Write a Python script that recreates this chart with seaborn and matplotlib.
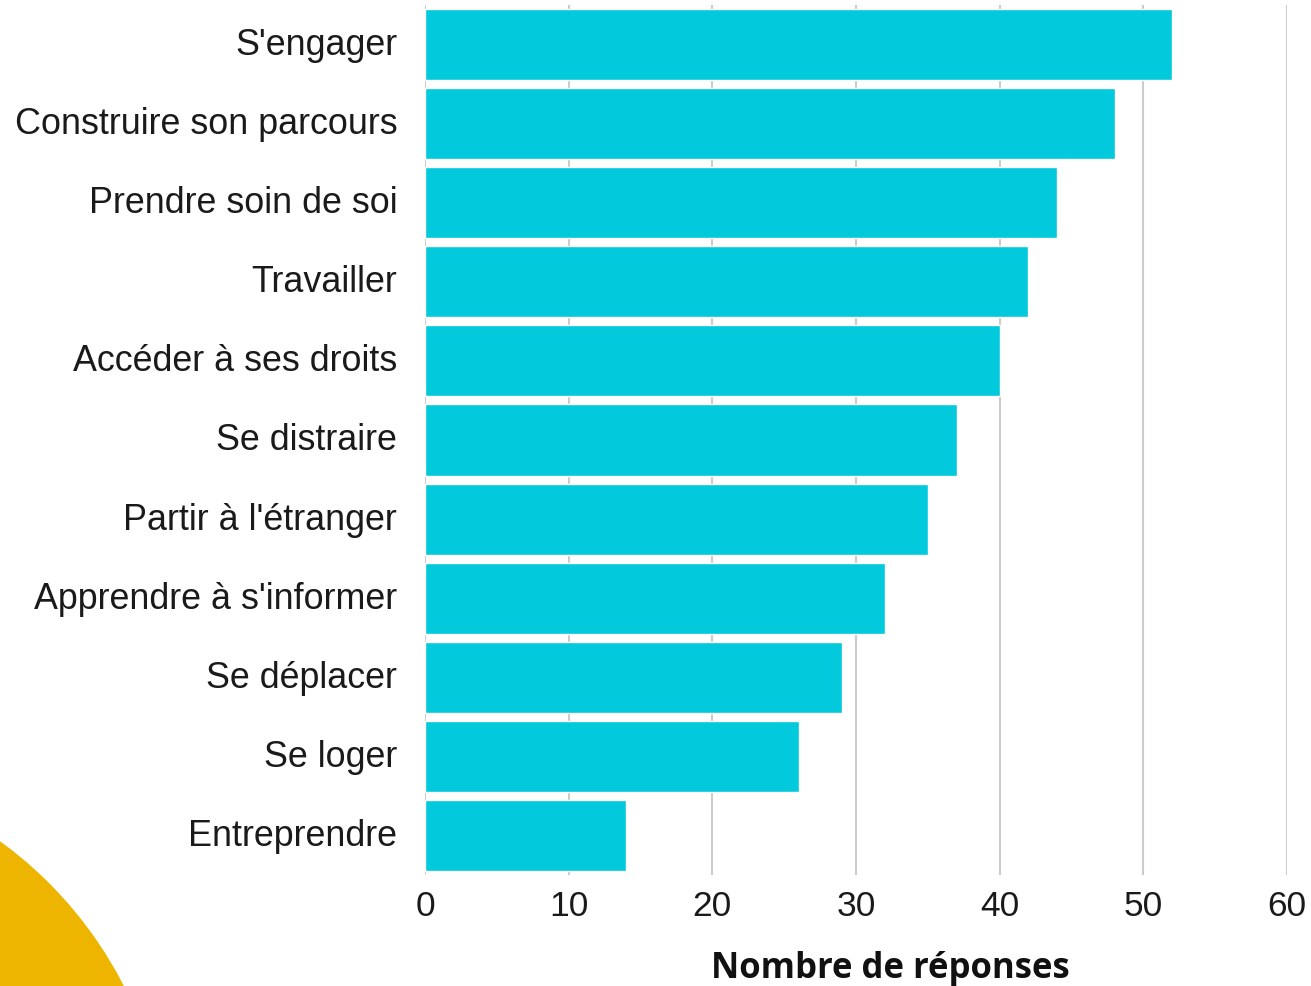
import matplotlib
matplotlib.use("Agg")
import matplotlib.pyplot as plt
import matplotlib.transforms as mtransforms
import seaborn as sns
import pandas as pd
from matplotlib.patches import Circle

categories = ["S'engager", "Construire son parcours", "Prendre soin de soi", "Travailler",
              "Accéder à ses droits", "Se distraire", "Partir à l'étranger",
              "Apprendre à s'informer", "Se déplacer", "Se loger", "Entreprendre"]
values = [52, 48, 44, 42, 40, 37, 35, 32, 29, 26, 14]
x_ticks = [0, 10, 20, 30, 40, 50, 60]

sns.set_theme(style="white")
plt.rcParams['font.family'] = ['Liberation Sans', 'DejaVu Sans']

fig = plt.figure(figsize=(13.11, 9.86), dpi=100)
fig.patch.set_facecolor('white')

# decorative circle bottom-left (pixel coordinates, origin bottom-left)
circ = Circle((-240, 986 - 1172), 408, color='#EDB500', zorder=0)
circ.set_transform(mtransforms.IdentityTransform())
fig.patches.append(circ)

ax = fig.add_axes([425/1311, 1 - 875/986, (1287-425)/1311, (875-5)/986])
ax.set_facecolor('none')

df = pd.DataFrame({"cat": categories, "val": values})
sns.barplot(data=df, x="val", y="cat", orient="h", color="#02C9DB", width=0.9,
            saturation=1, ax=ax, zorder=2)

ax.set_xlim(0, 60)
ax.set_xticks(x_ticks)
ax.set_xticklabels([str(t) for t in x_ticks])
ax.grid(axis='x', color='#CCCCCC', linewidth=1.5, zorder=0)
ax.set_axisbelow(True)
for s in ax.spines.values():
    s.set_visible(False)
ax.tick_params(axis='y', length=0, pad=20, labelsize=25.8, labelcolor='#1a1a1a')
ax.tick_params(axis='x', length=0, pad=11, labelsize=25.5, labelcolor='#1a1a1a')
offset = mtransforms.ScaledTranslation(0, 3/100, fig.dpi_scale_trans)
for lbl in ax.get_yticklabels():
    lbl.set_transform(lbl.get_transform() + offset)
ax.set_ylabel("")
ax.set_xlabel("Nombre de réponses", fontsize=25, fontweight='bold',
              family=['Open Sans', 'DejaVu Sans'], color='#111111')
ax.xaxis.set_label_coords((890-425)/862, -0.087)

fig.savefig("out.png", dpi=100)
